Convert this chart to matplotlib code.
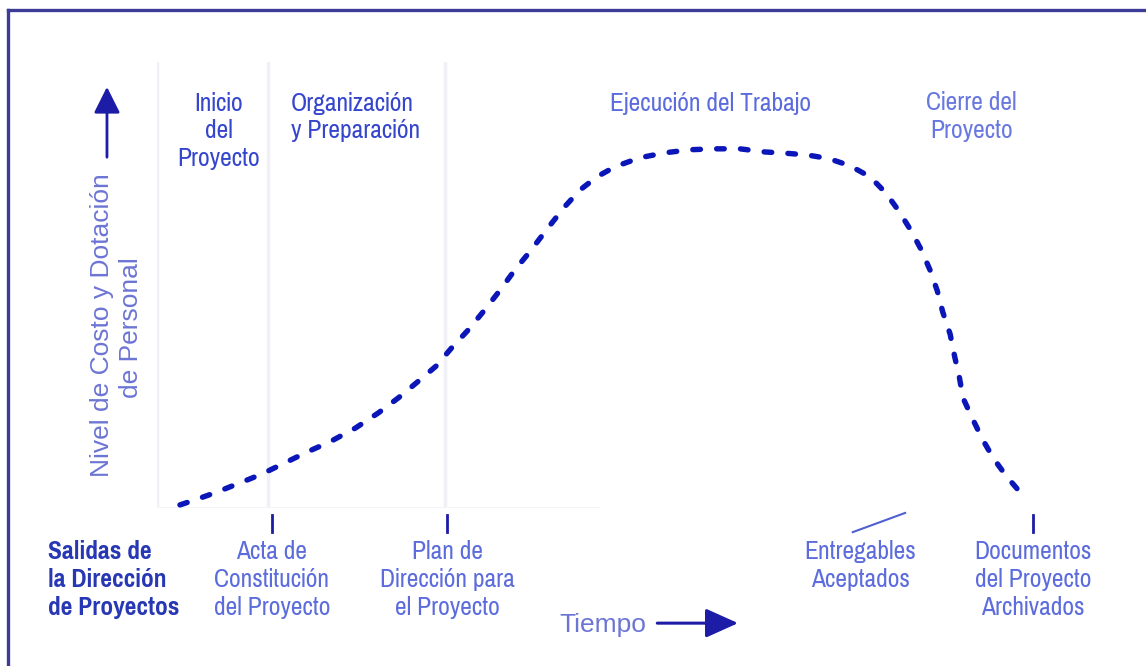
import matplotlib
matplotlib.use("Agg")
import matplotlib.pyplot as plt
from matplotlib.lines import Line2D
from matplotlib import font_manager

# --- Curve: cost / staffing level over time (0-100 scale on both axes) ---
tiempo = [2.5, 4.1, 6.3, 9.0, 11.4, 13.9, 16.4, 18.8, 21.6, 24.1, 26.3, 28.4,
          30.4, 32.1, 33.9, 35.7, 37.4, 39.0, 40.6, 42.6, 44.4, 46.1, 47.9,
          49.9, 52.6, 55.3, 58.1, 60.8, 63.5, 66.2, 68.6, 70.9, 73.2, 75.5,
          77.7, 79.4, 80.8, 82.1, 83.2, 84.2, 85.0, 85.6, 86.4, 86.9, 87.4,
          87.8, 88.8, 89.9, 91.1, 92.5, 94.0]
nivel = [0.7, 1.8, 3.4, 5.6, 7.6, 10.1, 12.6, 14.8, 17.9, 21.3, 24.7, 28.3,
         31.8, 35.9, 39.9, 44.4, 48.9, 53.4, 57.4, 62.8, 67.5, 71.3, 74.2,
         76.5, 78.5, 79.6, 80.3, 80.5, 80.5, 79.8, 79.5, 79.1, 78.3, 76.7,
         74.2, 70.6, 66.6, 62.3, 58.1, 53.4, 48.7, 43.9, 39.0, 33.9, 29.4,
         24.7, 20.2, 15.5, 11.2, 7.2, 3.6]

# --- Phases (boundaries and titles) ---
limites_fase = [0.0, 12.1, 31.4]
fases = ["Inicio\ndel\nProyecto", "Organización\ny Preparación",
         "Ejecución del Trabajo", "Cierre del\nProyecto"]

# --- Outputs of project management, placed on the time axis ---
salidas_t = [12.5, 31.6, 95.4]
salidas = ["Acta de\nConstitución\ndel Proyecto",
           "Plan de\nDirección para\nel Proyecto",
           "Documentos\ndel Proyecto\nArchivados"]
entregables = "Entregables\nAceptados"

available = {f.name for f in font_manager.fontManager.ttflist}
narrow = next((n for n in ["Pragati Narrow", "Archivo Narrow", "Roboto Condensed",
                           "PT Sans Narrow", "Barlow Semi Condensed"]
               if n in available), "DejaVu Sans")
regular = next((n for n in ["Arimo", "Liberation Sans"] if n in available), "DejaVu Sans")
plt.rcParams["font.family"] = [narrow, "DejaVu Sans"]

NAVY = "#1c1ca6"
CURVE = "#0a16b8"
TITLE = "#3546cc"
LIGHT = "#5c6cdc"
LABEL = "#6c75d4"
FS = 20
LS = 1.25

fig = plt.figure(figsize=(11.46, 6.66), dpi=100)
fig.patch.set_facecolor("white")

# frame (left and top edges)
fig.add_artist(Line2D([0.007, 0.007], [0.0, 0.985], color="#3c3c96", lw=2.4))
fig.add_artist(Line2D([0.007, 1.0], [0.985, 0.985], color="#3c3c96", lw=2.4))

ax = fig.add_axes([0.137, 0.2372, 0.801, 0.670])
ax.set_xlim(0, 100)
ax.set_ylim(0, 100)
ax.axis("off")

# faint phase separators
for x in limites_fase:
    ax.plot([x, x], [0, 100], color="#f0f0f7", lw=2.5, zorder=0)
ax.plot([0, 48], [0, 0], color="#f3f3f8", lw=2, zorder=0)

# the curve
ax.plot(tiempo, nivel, color=CURVE, lw=3.9, linestyle=(0, (1.4, 3.0)),
        dash_capstyle="round", zorder=3)

# phase titles
ax.text(6.7, 93.3, fases[0], ha="center", va="top", fontsize=FS,
        color=TITLE, linespacing=LS)
ax.text(14.6, 93.3, fases[1], ha="left", va="top", fontsize=FS,
        color=TITLE, linespacing=LS)
ax.text(60.3, 93.3, fases[2], ha="center", va="top", fontsize=FS,
        color=LIGHT, linespacing=LS)
ax.text(88.7, 93.5, fases[3], ha="center", va="top", fontsize=FS,
        color="#6878de", linespacing=LS)

# output markers and labels
for t, txt in zip(salidas_t, salidas):
    ax.plot([t, t], [-1.6, -5.4], color=NAVY, lw=2, clip_on=False)
    ax.text(t, -7.2, txt, ha="center", va="top", fontsize=FS,
            color=LIGHT, linespacing=LS, clip_on=False)
ax.plot([75.8, 81.5], [-5.4, -1.1], color="#5060d0", lw=1.5, clip_on=False)
ax.text(76.6, -7.2, entregables, ha="center", va="top", fontsize=FS,
        color=LIGHT, linespacing=LS, clip_on=False)

ax.text(-11.9, -7.2, "Salidas de\nla Dirección\nde Proyectos", ha="left",
        va="top", fontsize=FS, fontweight="bold", color="#2838b4",
        linespacing=LS, clip_on=False)

# axis captions and arrows
ax.text(-6.0, 41.0, "Nivel de Costo y Dotación", rotation=90, ha="center",
        va="center", fontsize=19, color=LABEL, family=regular,
        clip_on=False)
ax.text(-2.8, 40.4, "de Personal", rotation=90, ha="center", va="center",
        fontsize=19, color=LABEL, family=regular, clip_on=False)
ax.annotate("", xy=(-5.45, 95.0), xytext=(-5.45, 78.0),
            arrowprops=dict(arrowstyle="-|>,head_length=0.8,head_width=0.4",
                            color=NAVY, lw=2.0, mutation_scale=20),
            annotation_clip=False)

ax.text(48.6, -26.2, "Tiempo", ha="center", va="center", fontsize=19,
        color=LABEL, family=regular, clip_on=False)
ax.annotate("", xy=(63.6, -25.8), xytext=(54.2, -25.8),
            arrowprops=dict(arrowstyle="-|>,head_length=1.0,head_width=0.45",
                            color=NAVY, lw=2.2, mutation_scale=20),
            annotation_clip=False)

fig.savefig("out.png", dpi=100, facecolor="white")
